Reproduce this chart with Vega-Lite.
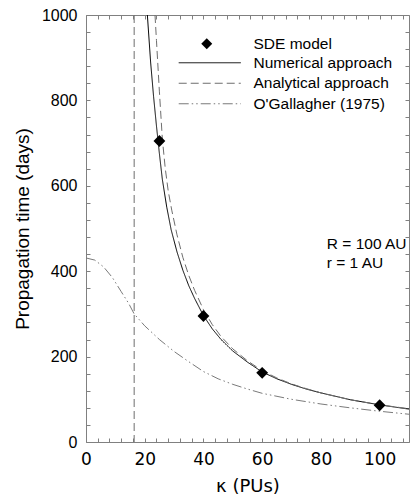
{
  "$schema": "https://vega.github.io/schema/vega-lite/v6.json",
  "width": 323,
  "height": 427,
  "autosize": {"type": "none"},
  "padding": {"left": 86, "top": 15, "right": 1, "bottom": 61},
  "background": "white",
  "config": {
    "view": {"stroke": "#808080", "strokeWidth": 1},
    "axis": {
      "domain": false, "tickColor": "#808080", "tickSize": 4, "tickWidth": 1, "offset": -4,
      "labelColor": "black", "labelFont": "Liberation Sans", "titleFont": "Liberation Sans",
      "titleFontWeight": "normal", "titleColor": "black", "grid": false,
      "labelOverlap": false, "labelFlush": false, "format": "d"
    },
    "legend": {
      "labelFont": "Liberation Sans", "labelFontSize": 15.5, "labelColor": "black",
      "padding": 0, "rowPadding": 3.5
    }
  },
  "datasets": {
    "curves": [
      {"series": "Numerical approach", "k": 20.9, "t": 1000},
      {"series": "Numerical approach", "k": 22, "t": 890},
      {"series": "Numerical approach", "k": 23, "t": 810},
      {"series": "Numerical approach", "k": 24, "t": 740},
      {"series": "Numerical approach", "k": 25, "t": 675},
      {"series": "Numerical approach", "k": 26, "t": 615},
      {"series": "Numerical approach", "k": 27.5, "t": 550},
      {"series": "Numerical approach", "k": 29, "t": 497},
      {"series": "Numerical approach", "k": 31, "t": 445},
      {"series": "Numerical approach", "k": 33, "t": 402},
      {"series": "Numerical approach", "k": 35, "t": 366},
      {"series": "Numerical approach", "k": 37, "t": 336},
      {"series": "Numerical approach", "k": 40, "t": 296},
      {"series": "Numerical approach", "k": 43, "t": 265},
      {"series": "Numerical approach", "k": 46, "t": 240},
      {"series": "Numerical approach", "k": 50, "t": 213},
      {"series": "Numerical approach", "k": 55, "t": 187},
      {"series": "Numerical approach", "k": 60, "t": 164},
      {"series": "Numerical approach", "k": 65, "t": 148},
      {"series": "Numerical approach", "k": 70, "t": 135},
      {"series": "Numerical approach", "k": 75, "t": 124},
      {"series": "Numerical approach", "k": 80, "t": 115},
      {"series": "Numerical approach", "k": 90, "t": 99},
      {"series": "Numerical approach", "k": 100, "t": 87},
      {"series": "Numerical approach", "k": 110, "t": 77},
      {"series": "Analytical approach", "k": 23.5, "t": 1000},
      {"series": "Analytical approach", "k": 24, "t": 940},
      {"series": "Analytical approach", "k": 25, "t": 820},
      {"series": "Analytical approach", "k": 26, "t": 710},
      {"series": "Analytical approach", "k": 27, "t": 640},
      {"series": "Analytical approach", "k": 28, "t": 588},
      {"series": "Analytical approach", "k": 29.2, "t": 543},
      {"series": "Analytical approach", "k": 31, "t": 485},
      {"series": "Analytical approach", "k": 33, "t": 432},
      {"series": "Analytical approach", "k": 35, "t": 390},
      {"series": "Analytical approach", "k": 37, "t": 355},
      {"series": "Analytical approach", "k": 40, "t": 310},
      {"series": "Analytical approach", "k": 43, "t": 275},
      {"series": "Analytical approach", "k": 46, "t": 247},
      {"series": "Analytical approach", "k": 50, "t": 218},
      {"series": "Analytical approach", "k": 55, "t": 190},
      {"series": "Analytical approach", "k": 60, "t": 167},
      {"series": "Analytical approach", "k": 65, "t": 150},
      {"series": "Analytical approach", "k": 70, "t": 136},
      {"series": "Analytical approach", "k": 75, "t": 125},
      {"series": "Analytical approach", "k": 80, "t": 115},
      {"series": "Analytical approach", "k": 90, "t": 99},
      {"series": "Analytical approach", "k": 100, "t": 87},
      {"series": "Analytical approach", "k": 110, "t": 78},
      {"series": "O'Gallagher (1975)", "k": 0, "t": 431},
      {"series": "O'Gallagher (1975)", "k": 3, "t": 426},
      {"series": "O'Gallagher (1975)", "k": 6, "t": 410},
      {"series": "O'Gallagher (1975)", "k": 9, "t": 385},
      {"series": "O'Gallagher (1975)", "k": 12, "t": 352},
      {"series": "O'Gallagher (1975)", "k": 14.5, "t": 325},
      {"series": "O'Gallagher (1975)", "k": 16.4, "t": 300},
      {"series": "O'Gallagher (1975)", "k": 20, "t": 272},
      {"series": "O'Gallagher (1975)", "k": 25, "t": 240},
      {"series": "O'Gallagher (1975)", "k": 30, "t": 212},
      {"series": "O'Gallagher (1975)", "k": 35, "t": 188},
      {"series": "O'Gallagher (1975)", "k": 40, "t": 165},
      {"series": "O'Gallagher (1975)", "k": 45, "t": 148},
      {"series": "O'Gallagher (1975)", "k": 50, "t": 135},
      {"series": "O'Gallagher (1975)", "k": 55, "t": 124},
      {"series": "O'Gallagher (1975)", "k": 60, "t": 114},
      {"series": "O'Gallagher (1975)", "k": 70, "t": 100},
      {"series": "O'Gallagher (1975)", "k": 80, "t": 89},
      {"series": "O'Gallagher (1975)", "k": 90, "t": 80},
      {"series": "O'Gallagher (1975)", "k": 100, "t": 72},
      {"series": "O'Gallagher (1975)", "k": 110, "t": 65}
    ],
    "sde": [
      {"model": "SDE model", "k": 25, "t": 705},
      {"model": "SDE model", "k": 40, "t": 295},
      {"model": "SDE model", "k": 60, "t": 162},
      {"model": "SDE model", "k": 100, "t": 86}
    ],
    "asym": [{"k": 16.4}],
    "note": [{"label": "R = 100 AU"}]
  },
  "resolve": {"axis": {"x": "independent", "y": "independent"}},
  "layer": [
    {
      "data": {"name": "asym"},
      "mark": {"type": "rule", "color": "#6e6e6e", "strokeWidth": 1, "strokeDash": [8, 4]},
      "encoding": {
        "x": {"field": "k", "type": "quantitative", "scale": {"domain": [0, 110], "nice": false}, "axis": null}
      }
    },
    {
      "data": {"name": "curves"},
      "mark": {"type": "line", "strokeWidth": 1, "clip": true},
      "encoding": {
        "x": {
          "field": "k", "type": "quantitative",
          "scale": {"domain": [0, 110], "nice": false},
          "axis": {
            "orient": "bottom",
            "values": [0,4,8,12,16,20,24,28,32,36,40,44,48,52,56,60,64,68,72,76,80,84,88,92,96,100,104,108],
            "labelExpr": "datum.value % 20 == 0 ? datum.label : ''",
            "labelFont": "DejaVu Sans", "labelFontSize": 17, "labelPadding": 9,
            "title": "κ (PUs)", "titleFont": "DejaVu Sans", "titleFontSize": 18, "titlePadding": 10
          }
        },
        "y": {
          "field": "t", "type": "quantitative",
          "scale": {"domain": [0, 1000], "nice": false},
          "axis": {
            "orient": "left",
            "values": [0,40,80,120,160,200,240,280,320,360,400,440,480,520,560,600,640,680,720,760,800,840,880,920,960,1000],
            "labelExpr": "datum.value % 200 == 0 ? datum.label : ''",
            "labelFontSize": 16, "labelPadding": 9,
            "title": "Propagation time (days)", "titleFontSize": 19, "titlePadding": 9
          }
        },
        "color": {
          "field": "series", "type": "nominal",
          "scale": {"domain": ["Numerical approach", "Analytical approach", "O'Gallagher (1975)"], "range": ["#000000", "#6e6e6e", "#7a7a7a"]},
          "legend": {
            "title": null, "orient": "none", "legendX": 116, "legendY": 40,
            "symbolType": "M-6,0L6,0", "symbolSize": 107, "symbolStrokeWidth": 1, "labelOffset": 36
          }
        },
        "strokeDash": {
          "field": "series", "type": "nominal",
          "scale": {"domain": ["Numerical approach", "Analytical approach", "O'Gallagher (1975)"], "range": [[1, 0], [8, 4], [10, 3, 1.5, 3, 1.5, 3]]},
          "legend": {
            "title": null, "orient": "none", "legendX": 116, "legendY": 40,
            "symbolType": "M-6,0L6,0", "symbolSize": 107, "symbolStrokeWidth": 1, "labelOffset": 36
          }
        }
      }
    },
    {
      "data": {"name": "sde"},
      "mark": {"type": "point", "filled": true, "color": "black", "opacity": 1, "size": 140},
      "encoding": {
        "x": {"field": "k", "type": "quantitative", "scale": {"domain": [0, 110], "nice": false}, "axis": null},
        "y": {"field": "t", "type": "quantitative", "scale": {"domain": [0, 1000], "nice": false}, "axis": null},
        "shape": {
          "field": "model", "type": "nominal",
          "scale": {"range": ["diamond"]},
          "legend": {"title": null, "orient": "none", "legendX": 113, "legendY": 21, "symbolSize": 120, "labelOffset": 39, "symbolFillColor": "black", "symbolStrokeColor": "black"}
        }
      }
    },
    {
      "data": {"name": "note"},
      "mark": {"type": "text", "align": "left", "baseline": "top", "font": "Liberation Sans", "fontSize": 15.5, "lineHeight": 19, "color": "black"},
      "encoding": {
        "x": {"datum": 82, "type": "quantitative", "scale": {"domain": [0, 110], "nice": false}, "axis": null},
        "y": {"datum": 480, "type": "quantitative", "scale": {"domain": [0, 1000], "nice": false}, "axis": null},
        "text": {"value": ["R = 100 AU", "r = 1 AU"]}
      }
    },
    {
      "data": {"name": "sde"},
      "mark": {"type": "point", "opacity": 0},
      "encoding": {
        "x": {
          "field": "k", "type": "quantitative", "scale": {"domain": [0, 110], "nice": false},
          "axis": {"orient": "top", "labels": false, "title": null,
            "values": [0,4,8,12,16,20,24,28,32,36,40,44,48,52,56,60,64,68,72,76,80,84,88,92,96,100,104,108]}
        },
        "y": {
          "field": "t", "type": "quantitative", "scale": {"domain": [0, 1000], "nice": false},
          "axis": {"orient": "right", "labels": false, "title": null,
            "values": [0,40,80,120,160,200,240,280,320,360,400,440,480,520,560,600,640,680,720,760,800,840,880,920,960,1000]}
        }
      }
    }
  ]
}
